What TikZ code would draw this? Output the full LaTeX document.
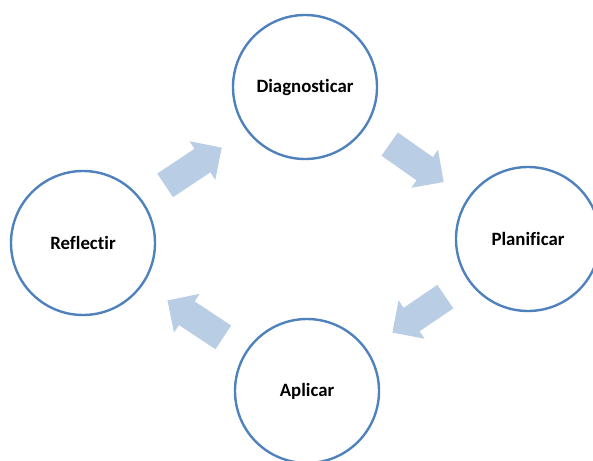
\documentclass[tikz,border=0pt]{standalone}
\usepackage{fontspec}
\setmainfont{Carlito}[Ligatures={NoCommon,NoRare}]
\usetikzlibrary{shapes.arrows}
\definecolor{ringblue}{RGB}{79,129,189}
\definecolor{arrowblue}{RGB}{185,205,229}

\begin{document}
\begin{tikzpicture}[x=1pt,y=-1pt,line join=bevel,
  stage/.style={circle,draw=ringblue,line width=2.4pt,minimum size=144pt,inner sep=0pt,
    font=\fontsize{18.8}{20}\selectfont\bfseries},
  flow/.style={single arrow,fill=arrowblue,draw=none,anchor=tail,minimum height=66pt,
    single arrow head extend=9pt,inner xsep=0pt,inner ysep=14pt}]
%%
\useasboundingbox (0,0) rectangle (593,460);
\clip (0,0) rectangle (593,460);
\node (node_0) at (305,87) [stage] {Diagnosticar};
  \node (node_1) at (528,239) [stage] {Planificar};
  \node (node_2) at (307,391) [stage] {Aplicar};
  \node (node_3) at (83,243) [stage] {Reflectir};
  \node (arrow_0) at (389.5,144) [flow,rotate=-35.1] {};
  \node (arrow_1) at (445.5,296.5) [flow,rotate=-145.8,minimum height=64pt] {};
  \node (arrow_2) at (223.5,337.5) [flow,rotate=146.5,minimum height=67pt] {};
  \node (arrow_3) at (165,185.5) [flow,rotate=33.7,minimum height=68pt] {};
%
\end{tikzpicture}
\end{document}
